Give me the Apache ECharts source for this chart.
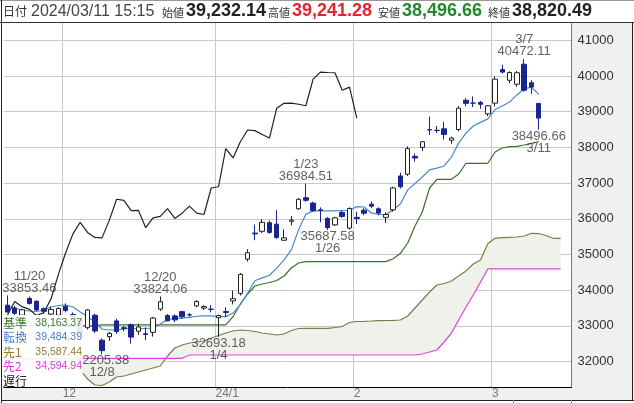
<!DOCTYPE html>
<html><head><meta charset="utf-8">
<script src="https://cdn.jsdelivr.net/npm/echarts@6/dist/echarts.min.js"></script>
<style>html,body{margin:0;padding:0;background:#fff}#c{width:634px;height:403px}</style>
</head><body><div id="c"></div>
<script>
// ---------- categories (trading days + 4 future slots) ----------
const dates = [
 '2023/11/20','2023/11/21','2023/11/22','2023/11/24','2023/11/27','2023/11/28','2023/11/29','2023/11/30',
 '2023/12/01','2023/12/04','2023/12/05','2023/12/06','2023/12/07','2023/12/08','2023/12/11','2023/12/12','2023/12/13','2023/12/14','2023/12/15','2023/12/18','2023/12/19','2023/12/20','2023/12/21','2023/12/22','2023/12/25','2023/12/26','2023/12/27','2023/12/28','2023/12/29',
 '2024/01/04','2024/01/05','2024/01/09','2024/01/10','2024/01/11','2024/01/12','2024/01/15','2024/01/16','2024/01/17','2024/01/18','2024/01/19','2024/01/22','2024/01/23','2024/01/24','2024/01/25','2024/01/26','2024/01/29','2024/01/30','2024/01/31',
 '2024/02/01','2024/02/02','2024/02/05','2024/02/06','2024/02/07','2024/02/08','2024/02/09','2024/02/13','2024/02/14','2024/02/15','2024/02/16','2024/02/19','2024/02/20','2024/02/21','2024/02/22','2024/02/26','2024/02/27','2024/02/28','2024/02/29',
 '2024/03/01','2024/03/04','2024/03/05','2024/03/06','2024/03/07','2024/03/08','2024/03/11','2024/03/12','2024/03/13','2024/03/14','2024/03/15'
];
const tickDates = ['2023/12/01','2024/01/04','2024/02/01','2024/03/01'];
const tickLabels = ['12','24/1','2','3'];
const yTicks = [32000,33000,34000,35000,36000,37000,38000,39000,40000,41000];

// ---------- OHLC ----------
const open = [
 33580,33500,33300,33770,33690,33480,33330,33300,
 33550,33320,33180,32950,33300,32600,32700,33140,32950,33030,32850,32780,32820,33470,33290,33280,33400,33310,33560,33500,33470,
 33230,33400,33700,33910,34870,35600,35650,35890,35850,35400,35930,36280,36590,36440,36250,36010,35830,36180,35740,
 36040,36240,36410,36280,36040,36250,37200,37250,37750,38000,38500,38480,38520,38200,38500,39320,39240,39260,38940,
 39240,40180,39880,39770,40330,39810,39232.14
];
const high = [
 33853.46,33560,33480,33820,33720,33520,33540,33520,
 33630,33380,33200,33470,33340,32650,32830,33200,33000,33070,33060,32960,33250,33824.06,33330,33320,33420,33360,33720,33580,33580,
 33320,33520,33990,34480,35150,35839,35990,35950,36240,35700,36080,36580,36984.51,36480,36320,36050,36060,36230,36320,
 36200,36300,36490,36320,36180,36900,37290,38030,37830,38180,38865,38600,38720,38300,39156,39380,39426,39300,39180,
 39990,40314,40130,40140,40472.11,39880,39241.28
];
const low = [
 33380,33300,33270,33600,33420,33330,33300,33250,
 33380,33150,32700,32900,32800,32205.38,32580,32780,32850,32500,32750,32600,32700,33420,33130,33100,33200,33260,33520,33450,33380,
 32693.18,33250,33600,33850,34800,35400,35600,35580,35440,35380,35820,36250,36480,36200,35900,35687.58,35800,36030,35700,
 35854.63,36100,36300,36100,35880,36200,36850,37200,37600,37900,38350,38400,38220,38100,38450,39150,39130,39080,38876,
 39150,40070,39800,39700,39560,39500,38496.66
];
const close = [
 33388.03,33354.14,33451.83,33625.53,33447.67,33408.39,33460,33486.89,
 33431.51,33231.27,32775.82,33445.90,32858.31,32307.86,32791.80,32843.71,32926.35,32686.25,32970.55,32758.98,33219.39,33675.94,33140.47,33169.05,33254.03,33305.85,33681.24,33539.62,33464.17,
 33288.29,33377.42,33763.18,34441.72,35049.86,35577.11,35901.79,35619.18,35477.75,35466.17,35963.27,36546.95,36517.57,36226.48,36236.47,35751.07,36026.94,36065.86,36286.71,
 36011.46,36158.02,36354.16,36160.66,36119.92,36863.28,36897.42,37963.97,37703.32,38157.94,38487.24,38470.38,38363.61,38262.16,39098.68,39233.71,39239.52,39208.03,39166.19,
 39910.82,40109.23,40097.63,40090.78,39598.71,39688.94,38820.49
];

// ---------- Ichimoku lines ----------
const tenkan = [
 33557,33501,33445,33417,33403,33445,33529,33571,
 33585,33529,33389,33263,33109,32913,32885,32885,32913,32927,32927,32927,32941,33050,33180,33210,33220,33240,33270,33280,33280,
 33258,33258,33360,33596,33920,34266,34346,34420,34620,34850,35130,35690,36130,36220,36220,36220,36220,36232,36240,
 36340,36330,36165,36120,36120,36250,36420,36810,36990,37170,37370,37420,37480,37730,38120,38400,38600,38700,38800,
 39060,39160,39270,39470,39640,39690,39484.39
];
const kijun = [
 33000,33000,33000,33000,33000,33000,33000,33000,
 33000,33000,33000,33000,33000,33030,33030,33030,33030,33030,33030,33030,33030,33030,33030,33030,33030,33030,33030,33030,33030,
 33030,33030,33258,33613,33894,34118,34174,34216,34272,34398,34622,34762,34798,34800,34800,34800,34800,34800,34800,
 34800,34800,34800,34800,34800,34880,35034,35322,35798,36190,36863,37106,37106,37106,37255,37555,37555,37555,37555,
 37871,37983,38020,38030,38067,38115,38163.37
];
const senkouA = [
 32157,32129,32101,32073,32045,32017,31989,31933,
 31877,31821,31765,31513,31345,31331,31429,31569,31597,31653,31709,31765,31821,31877,32157,32381,32465,32521,32549,32577,32661,
 32731,32801,32857,32885,32871,32843,32801,32773,32745,32773,32871,32927,32933,32933,32933,32933,32955,32983,33095,
 33123,33129,33137,33146,33151,33157,33165,33277,33501,33725,33950,34146,34188,34258,34398,34540,34734,34846,35300,
 35454,35471,35482,35490,35518,35594,35587.44,35532,35454,35454
];
const senkouB = [
 32092,32092,32092,32092,32092,32092,32092,32092,
 32092,32092,32092,32092,32092,32092,32092,32092,32092,32092,32092,32092,32092,32092,32092,32092,32092,32185,32185,32185,32185,
 32185,32185,32185,32185,32185,32185,32185,32185,32185,32185,32185,32185,32185,32185,32185,32185,32185,32185,32185,
 32185,32185,32185,32185,32185,32185,32185,32185,32185,32213,32269,32325,32549,32801,33165,33529,33866,34230,34594.94,
 34594.94,34594.94,34594.94,34594.94,34594.94,34594.94,34594.94,34594.94,34594.94,34594.94
];
const chikou = [
 33305.85,33681.24,33539.62,33464.17,33288.29,33377.42,33763.18,34441.72,
 35049.86,35577.11,35901.79,35619.18,35477.75,35466.17,35963.27,36546.95,36517.57,36226.48,36236.47,35751.07,36026.94,36065.86,36286.71,36011.46,36158.02,36354.16,36160.66,36119.92,36863.28,
 36897.42,37963.97,37703.32,38157.94,38487.24,38470.38,38363.61,38262.16,39098.68,39233.71,39239.52,39208.03,39166.19,39910.82,40109.23,40097.63,40090.78,39598.71,39688.94,
 38820.49
];

// ---------- annotations ----------
const hiDates = ['2023/11/20','2023/12/20','2024/01/23','2024/03/07'];
const hiLabels = ['11/20','12/20','1/23','3/7'];
const hiValues = [33853.46,33824.06,36984.51,40472.11];
const loDates = ['2023/12/08','2024/01/04','2024/01/26','2024/03/11'];
const loLabels = ['12/8','1/4','1/26','3/11'];
const loValues = [32205.38,32693.18,35687.58,38496.66];

// ---------- header & legend texts ----------
const headerDateLabel = '日付';
const headerDate = '2024/03/11 15:15';
const headerNames = ['始値','高値','安値','終値'];
const headerValues = ['39,232.14','39,241.28','38,496.66','38,820.49'];
const headerColors = ['#222222','#e3262e','#23882a','#222222'];
const legendNames = ['基準','転換','先1','先2','遅行'];
const legendValues = ['38,163.37','39,484.39','35,587.44','34,594.94',''];
const legendColors = ['#3a7a33','#4a80c4','#8c8034','#d63cd6','#222222'];

// ---------- build ----------
const candleData = open.map((o,i)=>[o, close[i], low[i], high[i]]);
const cloudBase = senkouA.map((a,i)=>Math.min(a, senkouB[i]));
const cloudBand = senkouA.map((a,i)=>Math.abs(a - senkouB[i]));

const annoData = [];
hiDates.forEach((d,i)=>annoData.push({value:[d,hiValues[i]], txt: hiLabels[i]+'\n'+hiValues[i].toFixed(2),
  label:{position:'top', distance:1, offset: i===0?[22,0]:[0,0]}}));
loDates.forEach((d,i)=>annoData.push({value:[d,loValues[i]], txt: loValues[i].toFixed(2)+'\n'+loLabels[i],
  label:{position:'bottom', distance:0}}));

const lineBase = {type:'line', symbol:'none', smooth:false, silent:true, z:2};
const cjk = "'Noto Sans CJK JP'";
const graphics = [
  {type:'rect', z:-100, shape:{x:571.5,y:22,width:62.5,height:365}, style:{fill:'#f0f0f0'}},
  {type:'rect', z:-100, shape:{x:2,y:387,width:632,height:13}, style:{fill:'#f0f0f0'}},
  {type:'line', z:50, shape:{x1:0,y1:22.5,x2:634,y2:22.5}, style:{stroke:'#333',lineWidth:1}},
  {type:'line', z:50, shape:{x1:0,y1:0.5,x2:634,y2:0.5}, style:{stroke:'#999',lineWidth:1}},
  {type:'line', z:50, shape:{x1:1.5,y1:0,x2:1.5,y2:403}, style:{stroke:'#222',lineWidth:1}},
  {type:'line', z:50, shape:{x1:632.5,y1:22,x2:632.5,y2:400}, style:{stroke:'#222',lineWidth:1}},
  {type:'line', z:50, shape:{x1:2,y1:400.5,x2:634,y2:400.5}, style:{stroke:'#222',lineWidth:1}},
  {type:'line', z:50, shape:{x1:513.5,y1:400,x2:513.5,y2:403}, style:{stroke:'#6a8fd0',lineWidth:1}},
  {type:'line', z:50, shape:{x1:571.5,y1:400,x2:571.5,y2:403}, style:{stroke:'#888',lineWidth:1}},
  // legend overlay
  {type:'rect', z:100, shape:{x:2,y:315,width:81,height:72}, style:{fill:'rgba(255,255,255,0.9)'}},
];
legendNames.forEach((n,i)=>{
  const y = 323 + i*14.5;
  graphics.push({type:'text', z:101, x:3, y:y, style:{text:n, fill:legendColors[i], font:'12px '+cjk, align:'left', verticalAlign:'middle', textAlign:'left', textVerticalAlign:'middle'}});
  if (legendValues[i]) graphics.push({type:'text', z:101, x:82, y:y, style:{text:legendValues[i], fill:legendColors[i], font:"10.5px 'Liberation Sans'", align:'right', verticalAlign:'middle', textAlign:'right', textVerticalAlign:'middle'}});
});
// header
const hy = 11.5;
graphics.push({type:'text', z:60, x:3, y:hy, style:{text:headerDateLabel, fill:'#333', font:'12px '+cjk, align:'left', verticalAlign:'middle', textAlign:'left', textVerticalAlign:'middle'}});
graphics.push({type:'text', z:60, x:31, y:hy, style:{text:headerDate, fill:'#444', font:"16px 'Liberation Sans'", align:'left', verticalAlign:'middle', textAlign:'left', textVerticalAlign:'middle'}});
const nameX = [162,268,378,488], valX = [186,292,402,512];
headerNames.forEach((n,i)=>{
  graphics.push({type:'text', z:60, x:nameX[i], y:hy+1, style:{text:n, fill:'#333', font:'11px '+cjk, align:'left', verticalAlign:'middle', textAlign:'left', textVerticalAlign:'middle'}});
  graphics.push({type:'text', z:60, x:valX[i], y:hy, style:{text:headerValues[i], fill:headerColors[i], font:"bold 18px 'Liberation Sans'", align:'left', verticalAlign:'middle', textAlign:'left', textVerticalAlign:'middle'}});
});

const chart = echarts.init(document.getElementById('c'), null, {renderer:'canvas'});
chart.setOption({
  animation:false,
  backgroundColor:'#ffffff',
  grid:{left:3.8, right:62.5, top:23, bottom:16, show:false},
  xAxis:{type:'category', data:dates, boundaryGap:true,
    axisLine:{show:true, lineStyle:{color:'#000', width:1}},
    axisTick:{show:false},
    axisLabel:{interval:(i,v)=>tickDates.indexOf(v)>=0, formatter:v=>tickLabels[tickDates.indexOf(v)]||'',
      color:'#777', fontSize:12, fontFamily:'Liberation Sans', align:'left', margin:1, padding:[0,0,0,-3]},
    splitLine:{show:true, interval:(i,v)=>tickDates.indexOf(v)>=0, lineStyle:{color:'#c8c8c8', width:1}}
  },
  yAxis:{type:'value', position:'right', min:31288.5, max:41484.6,
    axisLine:{show:true, lineStyle:{color:'#666', type:'dotted', width:1}},
    axisTick:{show:false, customValues:yTicks},
    axisLabel:{customValues:yTicks, formatter:v=>String(v), color:'#333', fontSize:13, fontFamily:'Liberation Sans', margin:6},
    splitLine:{show:true, lineStyle:{color:'#c8c8c8', width:1}}
  },
  graphic:{elements:graphics},
  series:[
    Object.assign({}, lineBase, {name:'cloudBase', data:cloudBase, stack:'cloud', lineStyle:{opacity:0}, z:1}),
    Object.assign({}, lineBase, {name:'cloudBand', data:cloudBand, stack:'cloud', lineStyle:{opacity:0}, areaStyle:{color:'#eef2ea', opacity:1}, z:1}),
    Object.assign({}, lineBase, {name:'先1', data:senkouA, lineStyle:{color:'#7e7a45', width:1.2}}),
    Object.assign({}, lineBase, {name:'先2', data:senkouB, lineStyle:{color:'#e042e0', width:1.2}}),
    Object.assign({}, lineBase, {name:'基準', data:kijun, lineStyle:{color:'#3d6e2e', width:1.2}}),
    Object.assign({}, lineBase, {name:'転換', data:tenkan, lineStyle:{color:'#4a88cc', width:1.2}}),
    Object.assign({}, lineBase, {name:'遅行', data:chikou, lineStyle:{color:'#222', width:1.2}}),
    {type:'candlestick', name:'日経', data:candleData, barWidth:5, z:3, silent:true,
      itemStyle:{color:'#ffffff', borderColor:'#222', color0:'#1a2590', borderColor0:'#1a2590', borderWidth:1}},
    {type:'scatter', name:'anno', data:annoData, symbolSize:1, itemStyle:{color:'rgba(0,0,0,0)'}, z:4, silent:true,
      label:{show:true, formatter:p=>p.data.txt, color:'#383838', fontSize:13, lineHeight:12, fontFamily:'Liberation Sans'}}
  ]
});
</script></body></html>
